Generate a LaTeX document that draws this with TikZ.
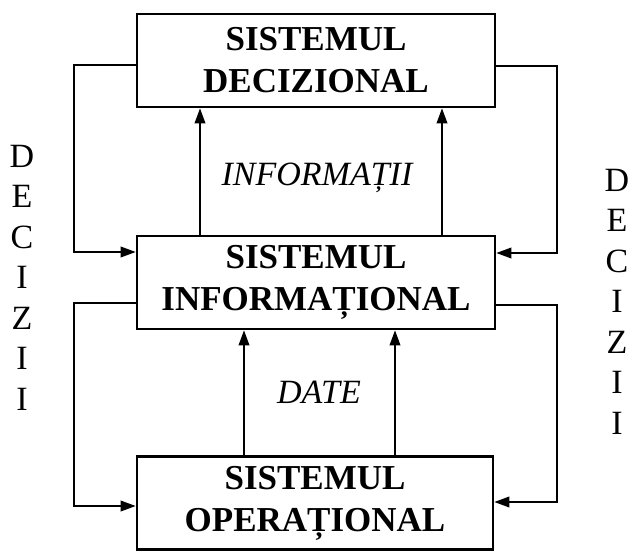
\documentclass[tikz,border=0pt]{standalone}
\usepackage{fontspec}
\setmainfont{Liberation Serif}
\usetikzlibrary{arrows.meta}
\begin{document}
\begin{tikzpicture}[x=1pt,y=-1pt,
  sysbox/.style={draw, line width=2.6pt, inner sep=0pt, align=center,
    minimum width=358pt, minimum height=93pt,
    font=\fontsize{35}{42}\selectfont\bfseries},
  flow/.style={line width=2pt, -{Triangle[length=15pt,width=10.5pt]}},
  flowlabel/.style={inner sep=0pt, anchor=base, font=\fontsize{34}{40}\selectfont\itshape},
  sidelabel/.style={inner sep=0pt, align=center, font=\fontsize{34}{40.5}\selectfont}]
\useasboundingbox (0,0) rectangle (630,551);

% the three systems
\node[sysbox] (dec) at (316,60.5) {SISTEMUL\\DECIZIONAL};
\node[sysbox] (inf) at (316,282.5) {SISTEMUL\\INFORMAȚIONAL};
\node[sysbox, minimum width=356pt] (op) at (315,503) {SISTEMUL\\OPERAȚIONAL};

% upward information flows
\draw[flow] (200,0 |- inf.north) -- (200,0 |- dec.south);
\draw[flow] (442,0 |- inf.north) -- (442,0 |- dec.south);
\draw[flow] (244,0 |- op.north) -- (244,0 |- inf.south);
\draw[flow] (395,0 |- op.north) -- (395,0 |- inf.south);

\node[flowlabel] (infolbl) at (317,185) {INFORMAȚII};
\node[flowlabel] (datelbl) at (319,403) {DATE};

% decision loops on the left
\draw[flow] (dec.west |- 0,65) -- (74,65) -- (74,252) -- (inf.west |- 0,252);
\draw[flow] (inf.west |- 0,303) -- (74,303) -- (74,506) -- (op.west |- 0,506);

% decision loops on the right
\draw[flow] (dec.east |- 0,66) -- (557,66) -- (557,253) -- (inf.east |- 0,253);
\draw[flow] (inf.east |- 0,305) -- (557,305) -- (557,502) -- (op.east |- 0,502);

\node[sidelabel] (decl) at (22,277.75) {D\\E\\C\\I\\Z\\I\\I};
\node[sidelabel] (decr) at (617,301.5) {D\\E\\C\\I\\Z\\I\\I};
\end{tikzpicture}
\end{document}
